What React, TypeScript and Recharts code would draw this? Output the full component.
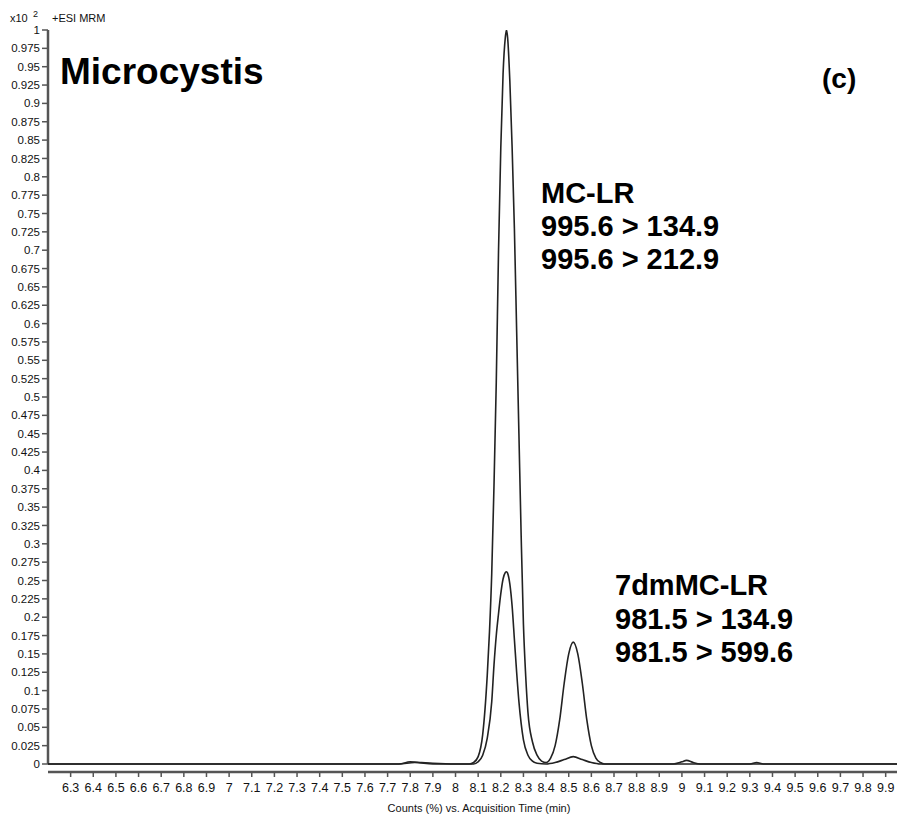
import React from 'react';
import { LineChart, Line, XAxis, YAxis, ReferenceLine } from 'recharts';

// Trace A: 995.6 > 134.9 (MC-LR) and 981.5 > 134.9 (7dmMC-LR)
const quantTime = [6.2, 7.75, 7.8, 7.85, 7.9, 8.0, 8.06, 8.08, 8.1, 8.12, 8.14, 8.15, 8.16, 8.17, 8.18, 8.19, 8.2, 8.21, 8.22, 8.225, 8.23, 8.24, 8.25, 8.26, 8.27, 8.28, 8.29, 8.3, 8.31, 8.32, 8.34, 8.36, 8.38, 8.4, 8.42, 8.44, 8.46, 8.48, 8.5, 8.52, 8.54, 8.56, 8.58, 8.6, 8.62, 8.64, 8.66, 9.3, 9.33, 9.36, 9.95];
const quantCounts = [0, 0, 0.003, 0.002, 0.001, 0, 0, 0.002, 0.01, 0.04, 0.12, 0.18, 0.26, 0.38, 0.52, 0.7, 0.84, 0.94, 0.99, 1.0, 0.99, 0.93, 0.84, 0.73, 0.59, 0.45, 0.31, 0.19, 0.12, 0.07, 0.03, 0.012, 0.004, 0.002, 0.008, 0.025, 0.06, 0.11, 0.15, 0.166, 0.15, 0.11, 0.06, 0.025, 0.008, 0.002, 0, 0, 0.002, 0, 0];

// Trace B: 995.6 > 212.9 (MC-LR) and 981.5 > 599.6 (7dmMC-LR)
const qualTime = [6.2, 7.75, 7.82, 7.9, 8.08, 8.1, 8.12, 8.14, 8.16, 8.17, 8.18, 8.19, 8.2, 8.21, 8.22, 8.225, 8.23, 8.24, 8.25, 8.26, 8.27, 8.28, 8.29, 8.3, 8.32, 8.34, 8.36, 8.4, 8.44, 8.48, 8.52, 8.56, 8.6, 8.64, 8.96, 9.0, 9.02, 9.05, 9.08, 9.95];
const qualCounts = [0, 0, 0.002, 0, 0, 0.003, 0.012, 0.035, 0.085, 0.135, 0.175, 0.205, 0.232, 0.252, 0.261, 0.262, 0.26, 0.245, 0.215, 0.17, 0.125, 0.085, 0.055, 0.033, 0.012, 0.004, 0.001, 0, 0.002, 0.006, 0.01, 0.006, 0.002, 0, 0, 0.003, 0.005, 0.002, 0, 0];

const xTicks = [6.3, 6.4, 6.5, 6.6, 6.7, 6.8, 6.9, 7, 7.1, 7.2, 7.3, 7.4, 7.5, 7.6, 7.7, 7.8, 7.9, 8, 8.1, 8.2, 8.3, 8.4, 8.5, 8.6, 8.7, 8.8, 8.9, 9, 9.1, 9.2, 9.3, 9.4, 9.5, 9.6, 9.7, 9.8, 9.9];
const yTicks = [0, 0.025, 0.05, 0.075, 0.1, 0.125, 0.15, 0.175, 0.2, 0.225, 0.25, 0.275, 0.3, 0.325, 0.35, 0.375, 0.4, 0.425, 0.45, 0.475, 0.5, 0.525, 0.55, 0.575, 0.6, 0.625, 0.65, 0.675, 0.7, 0.725, 0.75, 0.775, 0.8, 0.825, 0.85, 0.875, 0.9, 0.925, 0.95, 0.975, 1];

const mcLrLabels = ['MC-LR', '995.6 > 134.9', '995.6 > 212.9'];
const dmLabels = ['7dmMC-LR', '981.5 > 134.9', '981.5 > 599.6'];

const quantData = quantTime.map((t, i) => ({ t, v: quantCounts[i] }));
const qualData = qualTime.map((t, i) => ({ t, v: qualCounts[i] }));

const FONT = '"Liberation Sans", Arial, sans-serif';

export default function App() {
  return (
    <div style={{ position: 'absolute', left: 0, top: 0, width: 897, height: 820, background: '#fff' }}>
      <LineChart width={897} height={820} margin={{ top: 30, right: 0, left: 0, bottom: 0 }}>
        <XAxis
          type="number"
          dataKey="t"
          domain={[6.2, 9.95]}
          ticks={xTicks}
          interval={0}
          allowDataOverflow
          height={48}
          tickSize={5}
          tickMargin={6}
          axisLine={{ stroke: '#555', strokeWidth: 2.5 }}
          tickLine={{ stroke: '#555', strokeWidth: 1.5 }}
          tick={{ fill: '#111', fontSize: 12.5, fontFamily: FONT }}
        />
        <YAxis
          type="number"
          dataKey="v"
          domain={[-0.0109, 1]}
          ticks={yTicks}
          interval={0}
          allowDataOverflow
          width={48}
          tickSize={6}
          tickMargin={2}
          axisLine={false}
          tickLine={{ stroke: '#555', strokeWidth: 1.5 }}
          tick={{ fill: '#111', fontSize: 11.5, fontFamily: FONT }}
        />
        <ReferenceLine
          segment={[{ x: 6.2, y: 0 }, { x: 6.2, y: 1 }]}
          stroke="#555"
          strokeWidth={2.5}
          ifOverflow="visible"
        />
        <Line
          data={quantData}
          dataKey="v"
          type="monotone"
          stroke="#222"
          strokeWidth={1.6}
          dot={false}
          isAnimationActive={false}
        />
        <Line
          data={qualData}
          dataKey="v"
          type="monotone"
          stroke="#222"
          strokeWidth={1.6}
          dot={false}
          isAnimationActive={false}
        />
      </LineChart>
      <svg
        width={897}
        height={820}
        style={{ position: 'absolute', left: 0, top: 0, pointerEvents: 'none' }}
        fontFamily={FONT}
      >
        <text x={10} y={22} fontSize={11} fill="#111">x10</text>
        <text x={33} y={17} fontSize={9} fill="#111">2</text>
        <text x={52} y={22} fontSize={11} fill="#111">+ESI MRM</text>
        <text x={60} y={84} fontSize={37} fontWeight="bold" fill="#000">Microcystis</text>
        <text x={822} y={88} fontSize={28} fontWeight="bold" fill="#000">(c)</text>
        {mcLrLabels.map((s, i) => (
          <text key={s} x={541} y={203 + i * 33} fontSize={29} fontWeight="bold" fill="#000">{s}</text>
        ))}
        {dmLabels.map((s, i) => (
          <text key={s} x={615} y={595 + i * 33.5} fontSize={29} fontWeight="bold" fill="#000">{s}</text>
        ))}
        <text x={479} y={812} fontSize={11} textAnchor="middle" fill="#111">Counts (%) vs. Acquisition Time (min)</text>
      </svg>
    </div>
  );
}
